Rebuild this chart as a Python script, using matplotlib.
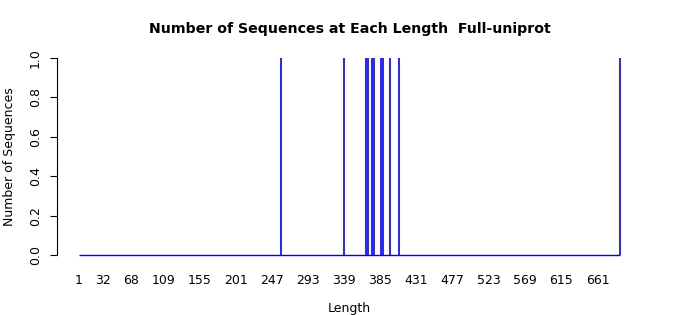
import matplotlib
matplotlib.use('Agg')
import matplotlib.pyplot as plt

# Sequence lengths observed and how many sequences have each length
lengths = [258, 339, 366, 369, 374, 377, 386, 388, 397, 408, 690]
counts = [1, 1, 1, 1, 1, 1, 1, 1, 1, 1, 1]
length_range = [1, 690]

# x tick labels shown on the axis
xtick_labels = [1, 32, 68, 109, 155, 201, 247, 293, 339, 385, 431, 477, 523, 569, 615, 661]
ytick_labels = [0.0, 0.2, 0.4, 0.6, 0.8, 1.0]

plt.rcParams['font.family'] = 'DejaVu Sans'

fig = plt.figure(figsize=(7, 3.15), dpi=100)
ax = fig.add_axes([0.0814, 0.165, 0.8356, 0.676])

ax.hlines(0, length_range[0], length_range[1], color='blue', lw=1)
ax.vlines(lengths, 0, counts, color='blue', lw=1.2)

pad_x = (length_range[1] - length_range[0]) * 0.04
ax.set_xlim(length_range[0] - pad_x, length_range[1] + pad_x)
ax.set_ylim(-0.04, 1.04)

ax.set_xticks(xtick_labels)
ax.set_xticklabels([str(v) for v in xtick_labels], fontsize=9)
ax.tick_params(axis='x', length=0, pad=8)

ax.set_yticks(ytick_labels)
ax.set_yticklabels(['%.1f' % v for v in ytick_labels], fontsize=9, rotation=90, va='center')
ax.tick_params(axis='y', length=5, width=0.8, pad=6)

for s in ['top', 'right', 'bottom']:
    ax.spines[s].set_visible(False)
ax.spines['left'].set_bounds(0, 1)
ax.spines['left'].set_linewidth(0.8)

ax.set_xlabel('Length', fontsize=9, labelpad=11)
ax.set_ylabel('Number of Sequences', fontsize=9, labelpad=9)
fig.text(0.5, 0.908, 'Number of Sequences at Each Length  Full-uniprot',
         ha='center', va='center', fontsize=10.2, fontweight='bold')

fig.savefig('out.png', dpi=100)
